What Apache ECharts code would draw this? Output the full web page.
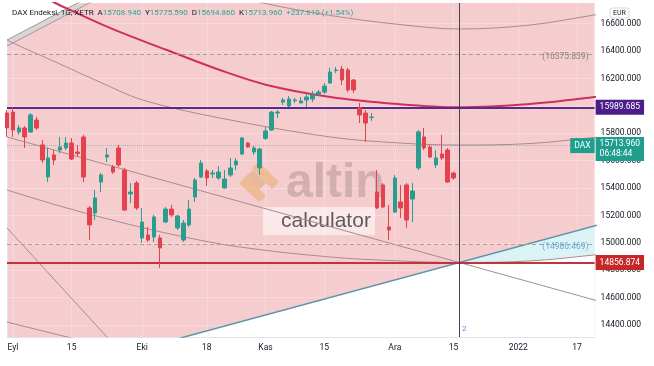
<!DOCTYPE html>
<html><head><meta charset="utf-8">
<script src="https://cdn.jsdelivr.net/npm/echarts@6/dist/echarts.min.js"></script>
<style>html,body{margin:0;padding:0;background:#fff}#c{width:654px;height:366px}</style>
</head><body><div id="c"></div>
<script>
// ---- candle data (daily, XETR DAX) ----
const dates = ['2021-08-31','2021-09-01','2021-09-02','2021-09-03','2021-09-06','2021-09-07','2021-09-08','2021-09-09','2021-09-10','2021-09-13','2021-09-14','2021-09-15','2021-09-16','2021-09-17','2021-09-20','2021-09-21','2021-09-22','2021-09-23','2021-09-24','2021-09-27','2021-09-28','2021-09-29','2021-09-30',
'2021-10-01','2021-10-04','2021-10-05','2021-10-06','2021-10-07','2021-10-08','2021-10-11','2021-10-12','2021-10-13','2021-10-14','2021-10-15','2021-10-18','2021-10-19','2021-10-20','2021-10-21','2021-10-22','2021-10-25','2021-10-26','2021-10-27','2021-10-28','2021-10-29',
'2021-11-01','2021-11-02','2021-11-03','2021-11-04','2021-11-05','2021-11-08','2021-11-09','2021-11-10','2021-11-11','2021-11-12','2021-11-15','2021-11-16','2021-11-17','2021-11-18','2021-11-19','2021-11-22','2021-11-23','2021-11-24','2021-11-25','2021-11-26','2021-11-29','2021-11-30',
'2021-12-01','2021-12-02','2021-12-03','2021-12-06','2021-12-07','2021-12-08','2021-12-09','2021-12-10','2021-12-13','2021-12-14','2021-12-15'];
const futureDates = ['2021-12-16','2021-12-17','2021-12-20','2021-12-21','2021-12-22','2021-12-23','2021-12-27','2021-12-28','2021-12-29','2021-12-30','2022-01-03','2022-01-04','2022-01-05','2022-01-06','2022-01-07','2022-01-10','2022-01-11','2022-01-12','2022-01-13','2022-01-14','2022-01-17','2022-01-18','2022-01-19','2022-01-20'];
const opens = [15948,15955,15809,15839,15809,15897,15715,15481,15642,15678,
15693,15729,15663,15773,15255,15218,15444,15627,15554,15693,
15532,15357,15437,15036,15058,15043,15036,15152,15247,15109,
15021,15131,15335,15481,15525,15503,15474,15401,15496,15569,
15649,15729,15663,15547,15763,15824,15948,16028,15999,16039,
16021,16043,16050,16087,16101,16167,16258,16269,16262,16189,
15985,15948,15915,15371,15423,15116,15225,15298,15423,15320,
15547,15773,15700,15569,15649,15678,15510];
const closes = [15839,15824,15839,15773,15934,15839,15605,15620,15605,15700,
15729,15612,15652,15481,15131,15328,15496,15642,15517,15569,
15240,15371,15255,15152,15021,15189,14963,15247,15204,15196,
15145,15247,15459,15583,15474,15510,15517,15466,15547,15598,
15766,15700,15693,15685,15817,15955,15955,16043,16050,16043,
16036,16065,16080,16101,16145,16247,16262,16189,16116,16116,
15934,15875,15919,15255,15262,15094,15474,15255,15167,15379,
15810,15693,15627,15620,15620,15444,15474];
const lows = [15773,15773,15788,15693,15802,15824,15583,15444,15569,15656,
15678,15605,15627,15444,15021,15167,15371,15590,15503,15554,
15233,15291,15240,15000,15007,15007,14817,15145,15189,15094,
15007,15116,15298,15474,15415,15474,15459,15397,15481,15532,
15642,15693,15642,15496,15751,15817,15912,16007,15992,16021,
16021,15992,16028,16072,16087,16160,16240,16153,16101,16094,
15875,15736,15890,15247,15255,15021,15218,15182,15109,15152,
15532,15678,15620,15547,15605,15437,15459];
const highs = [15970,15990,15860,15853,15948,15919,15751,15693,15678,15773,
15773,15766,15715,15788,15269,15386,15510,15693,15569,15715,
15547,15437,15452,15255,15116,15204,15058,15262,15277,15204,
15167,15313,15474,15605,15539,15532,15561,15532,15620,15620,
15773,15736,15707,15693,15846,15963,15970,16058,16072,16058,
16065,16094,16109,16116,16167,16277,16284,16291,16277,16196,
16021,15970,15948,15532,15437,15277,15496,15423,15437,15437,
15824,15839,15715,15678,15788,15693,15521];

// ---- axis ticks ----
const tickDates = ['2021-09-01','2021-09-15','2021-10-01','2021-10-18','2021-11-01','2021-11-15','2021-12-01','2021-12-15','2022-01-03','2022-01-17'];
const tickLabels = ['Eyl','15','Eki','18','Kas','15','Ara','15','2022','17'];
const yTickValues = [14400,14600,14800,15000,15200,15400,15600,15800,16000,16200,16400,16600];

// ---- levels ----
const purpleLevel = 15989.685;
const redLevel = 14856.874;
const priceLevel = 15713.960;
const upperDashLevel = 16375.839;
const lowerDashLevel = 14986.469;
const markerDate = '2021-12-16';
const countdown = '06:48:44';

// ---- drawing overlays, as [bar index, price] ----
const arcRed = [[7.3,16773],[8.2,16751],[17.5,16569],[27.2,16408],[36.2,16262],[44.2,16153],[55,16065],[66.4,16014],[77,15990],[89,16014],[100,16065],[101,16075]];
const arcTop = [[41.4,16788],[43.6,16751],[55,16660],[66.4,16596],[77,16561],[89,16590],[100,16664],[101,16672]];
const arcMid = [[0,16481],[1,16459],[9,16306],[15.8,16174],[23.1,16043],[36.2,15912],[55,15773],[66.9,15729],[77,15714],[89,15725],[100,15770],[101,15776]];
const arcLow = [[0,15386],[9,15269],[19.2,15152],[29.4,15050],[39.6,14970],[55,14897],[66.9,14868],[77,14857],[89,14868],[100,14912],[101,14919]];
const fanDown = [[0,15773],[101,14571]];
const fanUp = [[25,14253],[101,15136]];
const steepLine = [[0,15109],[18,14267]];
const lowLine = [[0,14422],[12,14294]];
const bandUpper = [[0,16481],[13.5,16785]];
const bandLower = [[0,16437],[15.5,16785]];

const allDates = dates.concat(futureDates);
const candles = dates.map((d,i)=>[opens[i],closes[i],lows[i],highs[i]]);

const GREY = '#a58c8e';
function lineS(data, color, width, smooth, z){
  return {type:'line', xAxisIndex:1, yAxisIndex:0, data, showSymbol:false, symbol:'none', smooth: smooth?0.35:false,
    lineStyle:{color, width}, z: z||3, silent:true, animation:false, clip:true};
}
function polyS(pts, fill, z){
  return {type:'custom', xAxisIndex:1, yAxisIndex:0, z: z||1, silent:true, data:[0], animation:false,
    renderItem:(params, api)=>{
      const cs = params.coordSys;
      return {type:'polygon', shape:{points: pts.map(p=>api.coord(p))}, style:{fill},
        clipPath:{type:'rect', shape:{x:cs.x,y:cs.y,width:cs.width,height:cs.height}}};
    }};
}
const cyanPts = [[77,14857],[89,14996],[101,15136]].concat(arcLow.slice(7).reverse());
const whiteBottom = fanUp.concat([[101,14000],[25,14000]]);
const whiteTop = [bandUpper[0], bandUpper[1], [0,16800]];
const bandPts = [bandUpper[0], bandUpper[1], bandLower[1], bandLower[0]];

const FONT = 'Roboto';
const chart = echarts.init(document.getElementById('c'), null, {renderer:'canvas'});
chart.setOption({
  animation:false,
  backgroundColor:'#ffffff',
  grid:{left:7, right:59.4, top:3, bottom:29, show:true, backgroundColor:'#f6cdcf', borderWidth:0},
  xAxis:[{
    type:'category', data:allDates, boundaryGap:false,
    axisLine:{show:true, lineStyle:{color:'#e0e3eb'}}, axisTick:{show:false},
    axisLabel:{interval:(i,v)=>tickDates.indexOf(v)>=0, formatter:v=>tickLabels[tickDates.indexOf(v)],
      fontFamily:FONT, fontSize:8.5, color:'#131722', margin:6},
    splitLine:{show:true, interval:(i,v)=>tickDates.indexOf(v)>=0, lineStyle:{color:'rgba(255,255,255,0.25)'}}
  },{
    type:'value', min:0, max:100, show:false
  }],
  yAxis:{
    type:'value', position:'right', min:14313, max:16751, scale:true,
    axisLine:{show:true, lineStyle:{color:'#e0e3eb'}},
    axisTick:{show:false, customValues:yTickValues},
    axisLabel:{customValues:yTickValues, formatter:v=>Number(v).toFixed(3), fontFamily:FONT, fontSize:8.5, color:'#131722', margin:6, align:'left'},
    splitLine:{show:true, lineStyle:{color:'rgba(255,255,255,0.22)'}}
  },
  series:[
    polyS(whiteBottom, '#ffffff', 1),
    polyS(cyanPts, '#dcf3f6', 1),
    polyS(whiteTop, '#ffffff', 1),
    polyS(bandPts, '#dcd4d5', 1),
    lineS(bandUpper, '#9b9b9b', 1),
    lineS(bandLower, '#9b9b9b', 1),
    lineS(arcTop, GREY, 1, true),
    lineS(arcMid, GREY, 1, true),
    lineS(arcLow, GREY, 1, true),
    lineS(fanDown, GREY, 1),
    lineS(steepLine, GREY, 1),
    lineS(lowLine, GREY, 1),
    lineS(fanUp, '#5b93ab', 1.5),
    lineS(arcRed, '#cf2f60', 2, true, 4),
    {
      type:'candlestick', xAxisIndex:0, yAxisIndex:0, data:candles, barWidth:4, z:5, clip:true, silent:true,
      itemStyle:{color:'#2a9d8f', color0:'#e2434f', borderColor:'#2a9d8f', borderColor0:'#e2434f', borderWidth:1},
      markLine:{
        silent:true, symbol:['none','none'], animation:false,
        data:[
          {yAxis:upperDashLevel, lineStyle:{color:'#b09c9c', type:[4,3], width:1},
            label:{show:true, position:'insideEndTop', formatter:'('+upperDashLevel.toFixed(3)+')', color:'#8d8080', fontFamily:FONT, fontSize:8.5, distance:[6,0], offset:[0,7]}},
          {yAxis:lowerDashLevel, lineStyle:{color:'#b09c9c', type:[4,3], width:1},
            label:{show:true, position:'insideEndTop', formatter:'('+lowerDashLevel.toFixed(3)+')', color:'#6aa6d8', fontFamily:FONT, fontSize:8.5, distance:[6,0], offset:[0,7]}},
          {yAxis:priceLevel, lineStyle:{color:'rgba(110,150,150,0.55)', type:'dotted', width:1},
            label:{show:true, position:'end', distance:1, formatter:priceLevel.toFixed(3)+'\n'+countdown, color:'#fff', backgroundColor:'#1f9e8f', fontFamily:FONT, fontSize:8.5, lineHeight:10, padding:[2,4,2,4], offset:[0,4]}},
          {yAxis:priceLevel+0.001, lineStyle:{color:'rgba(0,0,0,0)', width:0},
            label:{show:true, position:'insideEndTop', distance:[0,0], formatter:'DAX', color:'#fff', backgroundColor:'#1f9e8f', fontFamily:FONT, fontSize:8.5, padding:[3,4,3,4], offset:[0,8]}},
          {yAxis:purpleLevel, lineStyle:{color:'#5c2a88', width:2, type:'solid'},
            label:{show:true, position:'end', distance:1, formatter:purpleLevel.toFixed(3), color:'#fff', backgroundColor:'#4a1d8a', fontFamily:FONT, fontSize:8.5, padding:[3,4,3,4]}},
          {yAxis:redLevel, lineStyle:{color:'#c0353a', width:2, type:'solid'},
            label:{show:true, position:'end', distance:1, formatter:redLevel.toFixed(3), color:'#fff', backgroundColor:'#c62828', fontFamily:FONT, fontSize:8.5, padding:[3,4,3,4]}},
          {xAxis:markerDate, lineStyle:{color:'#3b4657', width:1, type:'solid'}, label:{show:false}}
        ]
      }
    }
  ],
  graphic:[
    // watermark logo
    {type:'polygon', z:2, silent:true, shape:{points:[[252,168],[259,162],[279,182],[272,189]]}, style:{fill:'rgba(232,170,95,0.5)'}},
    {type:'polygon', z:2, silent:true, shape:{points:[[246,176],[253,170],[266,183],[259,190]]}, style:{fill:'rgba(214,150,80,0.4)'}},
    {type:'polygon', z:2, silent:true, shape:{points:[[239,183],[246,176],[266,196],[259,202]]}, style:{fill:'rgba(232,170,95,0.5)'}},
    {type:'text', z:2, silent:true, style:{x:286, y:184, text:'altin', font:'bold 48px "Liberation Sans"', fill:'rgba(130,112,110,0.32)', verticalAlign:'middle'}},
    {type:'rect', z:2, silent:true, shape:{x:263, y:207, width:112, height:28}, style:{fill:'rgba(255,255,255,0.55)'}},
    {type:'text', z:2, silent:true, style:{x:281, y:221, text:'calculator', font:'21px "Liberation Sans"', fill:'#5f5a5b', verticalAlign:'middle'}},
    // header
    {type:'text', z:10, silent:true, style:{x:12, y:13, verticalAlign:'middle', font:'8px Roboto',
      text:'{n|DAX Endeksi, 1G, XETR}  {n|A}{v|15708.940}  {n|Y}{v|15775.590}  {n|D}{v|15694.860}  {n|K}{v|15713.960}  {v|+237.610 (+1.54%)}',
      rich:{n:{fill:'#131722', font:'8px Roboto'}, v:{fill:'#26a69a', font:'8px Roboto'}}}},
    // EUR box
    {type:'rect', z:10, silent:true, shape:{x:610, y:8, width:19, height:10, r:2}, style:{fill:'#fff', stroke:'#c9ccd4', lineWidth:0.8}},
    {type:'text', z:11, silent:true, style:{x:619.5, y:13.5, text:'EUR', font:'7px Roboto', fill:'#131722', align:'center', verticalAlign:'middle'}},
    // marker label
    {type:'text', z:10, silent:true, style:{x:462, y:329, text:'2', font:'8px Roboto', fill:'#4a8fd8', verticalAlign:'middle'}}
  ]
});
</script></body></html>
